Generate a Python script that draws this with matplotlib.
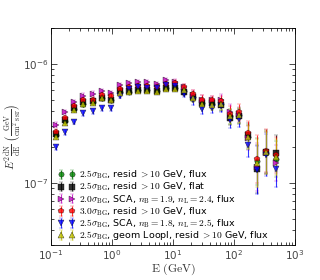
import numpy as np
import matplotlib
matplotlib.use("Agg")
import matplotlib.pyplot as plt
from matplotlib.ticker import LogLocator, NullFormatter

plt.rcParams['mathtext.fontset'] = 'cm'
plt.rcParams['font.family'] = ['DejaVu Sans']

energy = [0.121, 0.171, 0.241, 0.341, 0.481, 0.680, 0.960, 1.356, 1.915, 2.70,
          3.82, 5.40, 7.62, 10.76, 15.2, 21.5, 30.3, 42.8, 60.5, 85.4,
          120.6, 170.4, 240.7, 340.0, 480.0]

resid25_flux = [2.51, 3.29, 4.14, 4.56, 4.73, 5.16, 4.97, 5.84, 5.84, 6.01,
                6.01, 5.95, 6.25, 6.25, 5.95, 5.25, 4.64, 4.56, 4.56, 3.61,
                3.68, 2.42, 1.51, 1.78, 1.58]
resid25_flat = [2.59, 3.35, 4.22, 4.73, 4.83, 5.20, 5.01, 5.95, 5.87, 6.07,
                6.07, 5.95, 6.27, 6.27, 5.76, 5.30, 4.67, 4.64, 4.47, 3.53,
                3.61, 2.51, 1.30, 1.82, 1.78]
sca20 = [3.08, 3.93, 4.73, 5.41, 5.59, 5.87, 5.65, 6.64, 6.90, 7.08,
         7.08, 6.77, 7.32, 7.08, 6.35, 5.51, 5.01, 4.92, 5.01, 3.93,
         3.76, 2.37, 1.36, 1.78, 1.47]
resid30_flux = [2.68, 3.50, 4.44, 4.92, 4.98, 5.48, 5.41, 6.19, 6.35, 6.55,
                6.49, 6.43, 6.81, 6.95, 6.43, 5.59, 4.98, 4.92, 4.85, 3.81,
                3.93, 2.61, 1.58, 1.86, 1.71]
sca25 = [1.99, 2.66, 3.24, 3.85, 4.00, 4.24, 4.24, 5.41, 6.16, 6.35,
         6.31, 6.27, 6.68, 6.55, 5.62, 4.92, 4.19, 4.27, 4.38, 3.35,
         3.41, 2.07, 1.28, 1.71, 1.31]
loopi_flux = [2.44, 3.18, 4.12, 4.56, 4.71, 5.14, 4.92, 5.73, 5.76, 5.95,
              5.95, 5.84, 6.19, 6.19, 6.07, 5.20, 4.56, 4.47, 4.56, 3.61,
              3.68, 2.42, 1.47, 1.81, 1.65]

# relative (log) errors in decades per energy bin
err_dec = [0.02, 0.02, 0.02, 0.02, 0.02, 0.02, 0.02, 0.018, 0.018, 0.018,
           0.018, 0.018, 0.018, 0.02, 0.025, 0.035, 0.04, 0.04, 0.045, 0.065,
           0.065, 0.1, 0.2, 0.18, 0.15]

series = [
    (resid25_flux, 'g', 'o', r"$2.5\sigma_{\rm BG}$, resid $> 10$ GeV, flux"),
    (resid25_flat, 'k', 's', r"$2.5\sigma_{\rm BG}$, resid $> 10$ GeV, flat"),
    (sca20, 'm', '>', r"$2.0\sigma_{\rm BG}$, SCA, $n_{\rm B}=1.9$, $n_{\rm L}=2.4$, flux"),
    (resid30_flux, 'r', 'p', r"$3.0\sigma_{\rm BG}$, resid $> 10$ GeV, flux"),
    (sca25, 'b', 'v', r"$2.5\sigma_{\rm BG}$, SCA, $n_{\rm B}=1.8$, $n_{\rm L}=2.5$, flux"),
    (loopi_flux, 'y', '^', r"$2.5\sigma_{\rm BG}$, geom LoopI, resid $> 10$ GeV, flux"),
]

fig = plt.figure(figsize=(3.2, 2.8), dpi=100)
ax = fig.add_axes([0.159, 0.125, 0.763, 0.775])

E = np.array(energy)
d = np.array(err_dec)
for vals, c, m, lab in series:
    v = np.array(vals) * 1e-7
    lo = v * (1 - 10 ** (-d))
    hi = v * (10 ** d - 1)
    ax.errorbar(E, v, yerr=[lo, hi], fmt=m, color=c, ecolor=c, mfc=c, mec='k',
                mew=0.3, ms=3.8, elinewidth=0.8, capsize=1.5, capthick=0.8,
                alpha=0.8, label=lab)

ax.set_xscale('log')
ax.set_yscale('log')
ax.set_xlim(0.1, 1000)
ax.set_ylim(3e-8, 2e-6)
ax.tick_params(which='both', direction='in', top=True, right=True,
               labelsize=7.5, labelcolor='#444444')
ax.tick_params(axis='x', which='both', pad=2)
ax.tick_params(axis='y', which='both', pad=2)
ax.tick_params(which='major', length=4, width=0.5)
ax.tick_params(which='minor', length=2, width=0.5)
for s in ax.spines.values():
    s.set_linewidth(0.6)
ax.yaxis.set_major_locator(LogLocator(base=10))
ax.yaxis.set_minor_formatter(NullFormatter())
ax.xaxis.set_minor_formatter(NullFormatter())

ax.set_xlabel(r"$\mathrm{E\ (GeV)}$", fontsize=8.5, labelpad=0, color='#333333')
ax.set_ylabel(r"$E^2\frac{\mathrm{dN}}{\mathrm{dE}}\ \left(\frac{\mathrm{GeV}}{\mathrm{cm^2\,s\,sr}}\right)$",
              fontsize=8, labelpad=0, color='#333333')

leg = ax.legend(loc='lower left', bbox_to_anchor=(0.03, 0.012), numpoints=2,
                frameon=False, fontsize=6.8, handlelength=1.8,
                handletextpad=0.4, labelspacing=-0.05, borderaxespad=0.0,
                borderpad=0.0)

fig.savefig("out.png", dpi=100, facecolor='white')
